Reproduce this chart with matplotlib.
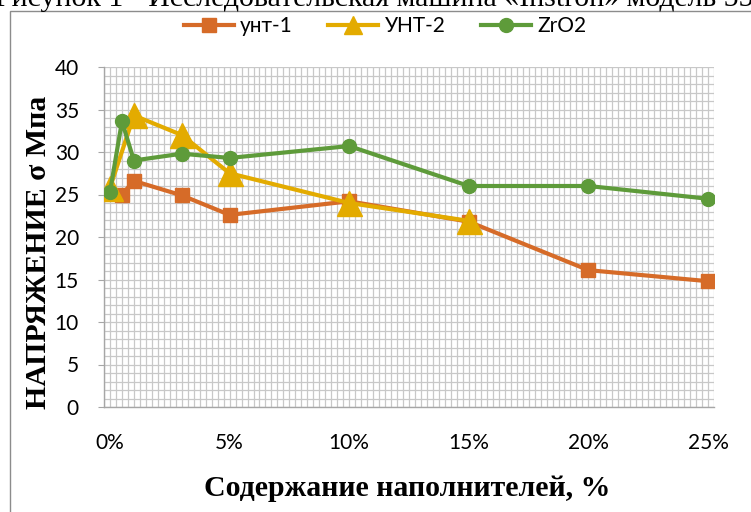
import numpy as np
import matplotlib.pyplot as plt
from matplotlib.patches import Rectangle
from matplotlib.ticker import FuncFormatter

# filler content, fraction
x_unt1 = [0.005, 0.01, 0.03, 0.05, 0.10, 0.15, 0.20, 0.25]
y_unt1 = [25.0, 26.6, 24.9, 22.6, 24.2, 21.8, 16.1, 14.8]

x_unt2 = [0.0, 0.01, 0.03, 0.05, 0.10, 0.15]
y_unt2 = [25.8, 34.3, 32.0, 27.5, 24.0, 21.9]

x_zro2 = [0.0, 0.005, 0.01, 0.03, 0.05, 0.10, 0.15, 0.20, 0.25]
y_zro2 = [25.3, 33.6, 29.0, 29.8, 29.3, 30.7, 26.0, 26.0, 24.5]

labels = ['унт-1', 'УНТ-2', 'ZrO2']
x_ticks = [0.0, 0.05, 0.10, 0.15, 0.20, 0.25]
y_ticks = [0, 5, 10, 15, 20, 25, 30, 35, 40]

sansFont = ['Lato', 'DejaVu Sans']
serifFont = 'Liberation Serif'
gridColor = '#c8c8c8'
axisColor = '#a6a6a6'

W, H = 751, 512
fig = plt.figure(figsize=(W / 100, H / 100), dpi=100)

# page caption cut by the top edge and the chart frame
fig.text(-0.006, 1 - 6 / H,
         'Рисунок 1 - Исследовательская машина «Instron» модель 5569',
         family=serifFont, fontsize=21.5, va='baseline', ha='left')
fig.patches.append(Rectangle((9.5 / W, -0.1), 1.2, 1 - 11 / H + 0.1,
                             transform=fig.transFigure, fill=False,
                             edgecolor='#8c8c8c', linewidth=1.0))

ax = fig.add_axes([104 / W, 1 - 407 / H, 610 / W, 340 / H])

ax.plot(x_unt1, y_unt1, color='#d66b28', lw=3, marker='s', ms=10,
        label=labels[0], zorder=3)
ax.plot(x_unt2, y_unt2, color='#e3ab00', lw=3, marker='^', ms=18,
        label=labels[1], zorder=4)
ax.plot(x_zro2, y_zro2, color='#5e9b3a', lw=3, marker='o', ms=10,
        label=labels[2], zorder=5)

ax.set_xlim(-0.0025, 0.2525)
ax.set_ylim(0, 40)

ax.set_xticks(x_ticks)
ax.set_yticks(y_ticks)
ax.set_xticks(np.arange(-0.0025, 0.2526, 0.0025), minor=True)
ax.set_yticks(np.arange(0, 41, 1), minor=True)
ax.xaxis.set_major_formatter(FuncFormatter(lambda v, p: '%d%%' % round(v * 100)))

ax.grid(True, which='both', color=gridColor, lw=0.9, zorder=0)
ax.set_axisbelow(True)

for s in ['top', 'right']:
    ax.spines[s].set_visible(False)
for s in ['left', 'bottom']:
    ax.spines[s].set_color(axisColor)
    ax.spines[s].set_linewidth(1.0)

ax.tick_params(axis='x', which='both', length=0, pad=19)
ax.tick_params(axis='y', which='major', length=4, color=axisColor, pad=14)
ax.tick_params(axis='y', which='minor', length=0)
for t in ax.get_xticklabels() + ax.get_yticklabels():
    t.set_family(sansFont)
    t.set_fontsize(15)

fig.text(407 / W, 1 - 488 / H, 'Содержание наполнителей, %',
         family=serifFont, weight='bold', fontsize=21.5,
         ha='center', va='center')
fig.text(39 / W, 1 - 252 / H, 'НАПРЯЖЕНИЕ σ Мпа',
         family=serifFont, weight='bold', fontsize=21.5,
         ha='center', va='center', rotation=90)

leg = fig.legend(loc='center', bbox_to_anchor=(385 / W, 1 - 26 / H), ncol=3,
                 frameon=False, handlelength=2.4, handletextpad=0.3,
                 columnspacing=1.7, prop={'family': sansFont, 'size': 15})
for h, ms in zip(leg.legend_handles, [10, 13, 10]):
    h.set_markersize(ms)

fig.savefig('out.png', dpi=100)
